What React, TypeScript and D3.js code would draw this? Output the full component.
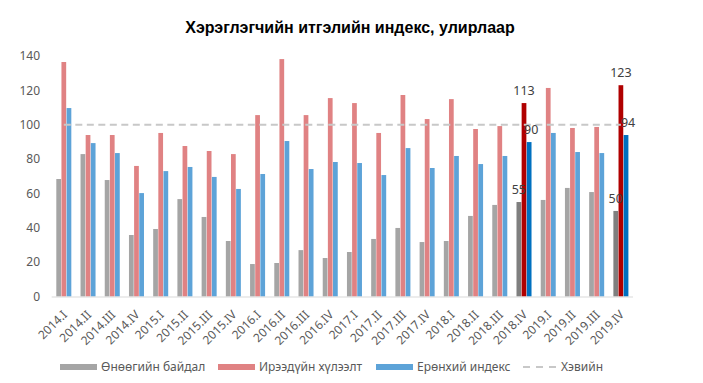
import React from "react";
import * as d3 from "d3";

const categories = [
  "2014.I", "2014.II", "2014.III", "2014.IV",
  "2015.I", "2015.II", "2015.III", "2015.IV",
  "2016.I", "2016.II", "2016.III", "2016.IV",
  "2017.I", "2017.II", "2017.III", "2017.IV",
  "2018.I", "2018.II", "2018.III", "2018.IV",
  "2019.I", "2019.II", "2019.III", "2019.IV",
];
const current = [68.4, 82.9, 67.8, 35.8, 39.3, 56.7, 46.3, 32.3, 18.9, 19.5, 27.0, 22.4, 25.9, 33.5, 39.9, 31.7, 32.3, 46.9, 53.3, 55.0, 56.2, 63.2, 60.8, 49.8];
const future = [136.5, 94.0, 94.0, 76.0, 95.2, 87.6, 84.7, 82.9, 105.6, 138.2, 105.6, 115.5, 112.6, 95.2, 117.3, 103.3, 114.9, 97.5, 99.2, 112.6, 121.4, 98.1, 98.7, 123.0];
const overall = [109.7, 89.3, 83.5, 60.2, 73.0, 75.4, 69.6, 62.6, 71.3, 90.5, 74.2, 78.3, 77.7, 70.7, 86.4, 74.8, 81.8, 77.1, 81.8, 89.9, 95.2, 84.1, 83.5, 94.0];
const normalLevel = 100;
const highlighted = ["2018.IV", "2019.IV"];
const yTicks = [0, 20, 40, 60, 80, 100, 120, 140];
const seriesNames = ["Өнөөгийн байдал", "Ирээдүйн хүлээлт", "Ерөнхий индекс"];
const lineName = "Хэвийн";
const title = "Хэрэглэгчийн итгэлийн индекс, улирлаар";

const colors = ["#A5A5A5", "#E08283", "#5DA3D8"];
const hiColors = ["#7F7F7F", "#B00000", "#0070C0"];
const FONT = "'Noto Sans', 'Open Sans', sans-serif";

export default function App() {
  const W = 703, H = 383;
  const left = 51.7, right = 633, top = 56, bottom = 296.5;
  const x = d3.scaleBand<string>().domain(categories).range([left, right]).paddingInner(0.38).paddingOuter(0.19);
  const inner = d3.scaleBand<number>().domain([0, 1, 2]).range([0, x.bandwidth()]).paddingInner(0.08);
  const y = d3.scaleLinear().domain([0, 140]).range([bottom, top]);
  const series = [current, future, overall];
  const center = (c: string) => (x(c) as number) + x.bandwidth() / 2;

  const line = d3.line<number>().x((_, i) => center(categories[i])).y((d) => y(d));
  const lineData = categories.map(() => normalLevel);

  const legendItems = [
    { x: 60, tx: 101, name: seriesNames[0], type: "rect", color: colors[0] },
    { x: 218, tx: 259, name: seriesNames[1], type: "rect", color: colors[1] },
    { x: 376, tx: 417, name: seriesNames[2], type: "rect", color: colors[2] },
    { x: 523, tx: 561, name: lineName, type: "line", color: "#C8C8C8" },
  ];

  return (
    <svg width={W} height={H} style={{ position: "absolute", left: 0, top: 0, background: "#fff" }}>
      <text x={350} y={33} textAnchor="middle" fontFamily="'Liberation Sans', Arial, sans-serif" fontWeight="bold" fontSize={16} fill="#000">
        {title}
      </text>
      {yTicks.map((t) => (
        <text key={t} x={40} y={y(t)} dy="0.35em" textAnchor="end" fontFamily={FONT} fontSize={12} fill="#595959">
          {t}
        </text>
      ))}
      {categories.map((c, i) => (
        <g key={c}>
          {series.map((s, k) => {
            const hi = highlighted.includes(c);
            const bx = (x(c) as number) + (inner(k) as number);
            return (
              <rect key={k} x={bx} y={y(s[i])} width={inner.bandwidth()} height={bottom - y(s[i])} fill={hi ? hiColors[k] : colors[k]} />
            );
          })}
        </g>
      ))}
      <line x1={left} x2={right} y1={bottom + 0.5} y2={bottom + 0.5} stroke="#D9D9D9" strokeWidth={1} />
      <path d={line(lineData) || ""} fill="none" stroke="#C8C8C8" strokeWidth={2} strokeDasharray="7,4.5" />
      {categories.map((c, i) =>
        highlighted.includes(c)
          ? series.map((s, k) => (
              <text
                key={"l" + c + k}
                x={(x(c) as number) + (inner(k) as number) + inner.bandwidth() / 2 + (k === 2 ? 2 : 0)}
                y={y(s[i]) - 8}
                textAnchor="middle"
                fontFamily={FONT}
                fontSize={12.5}
                fill="#404040"
              >
                {Math.round(s[i])}
              </text>
            ))
          : null
      )}
      {categories.map((c) => (
        <text
          key={"t" + c}
          transform={`translate(${center(c) + 4},${bottom + 19}) rotate(-45)`}
          textAnchor="end"
          fontFamily={FONT}
          fontSize={12}
          fill="#595959"
        >
          {c}
        </text>
      ))}
      {legendItems.map((it) => (
        <g key={it.name}>
          {it.type === "rect" ? (
            <rect x={it.x} y={364} width={37} height={6} fill={it.color} />
          ) : (
            <line x1={it.x} x2={it.x + 35} y1={367} y2={367} stroke={it.color} strokeWidth={2} strokeDasharray="7,6" />
          )}
          <text x={it.tx} y={367} dy="0.35em" fontFamily={FONT} fontSize={12} fill="#595959">
            {it.name}
          </text>
        </g>
      ))}
    </svg>
  );
}
